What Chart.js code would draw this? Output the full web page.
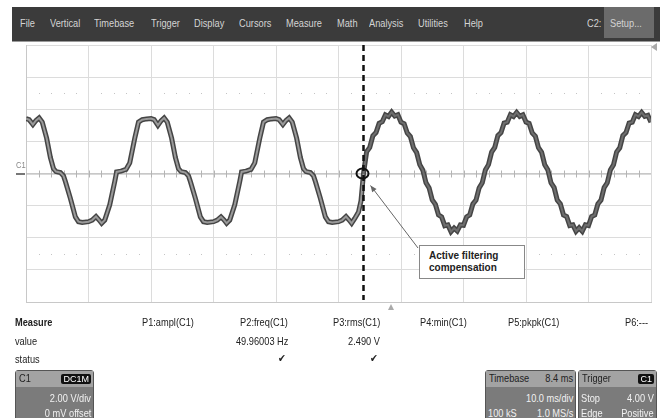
<!DOCTYPE html>
<html>
<head>
<meta charset="utf-8">
<script src="https://cdn.jsdelivr.net/npm/chart.js@4.4.0/dist/chart.umd.min.js"></script>
<style>
  body { margin: 0; width: 665px; height: 418px; position: relative; background: #fff; overflow: hidden;
         font-family: "Liberation Sans", Arial, sans-serif; }
  .abs { position: absolute; white-space: nowrap; }
  .l { transform: scaleX(0.84); transform-origin: left center; }
  .r { transform: scaleX(0.84); transform-origin: right center; }
  #menu { left: 12px; top: 7px; width: 648px; height: 34px; background: #3b3b3b; border-bottom: 1px solid #9a9a9a; }
  #menu span { position: absolute; top: 10px; font-size: 11px; color: #d4d4d4; }
  #setup { position: absolute; left: 592px; top: 0; width: 50px; height: 31px; background: #6b6b6b; }
  .m { font-size: 11px; color: #222; }
  .box { position: absolute; top: 370px; height: 52px; background: #7b7b7b; border-radius: 3px; border: 1px solid #555; }
  .box .hd { position: absolute; left: 0; right: 0; top: 0; height: 16px; background: #a3a3a3; }
  .box span { position: absolute; font-size: 11px; white-space: nowrap; }
  .badge { background: #111; color: #fff; border-radius: 2px; padding: 0 2px; font-size: 9px !important; line-height: 10px; }
  #note { left: 419px; top: 245px; width: 104px; height: 32px; background: #fff; border: 1px solid #888;
          font-weight: bold; font-size: 10px; line-height: 12px; color: #222; }
</style>
</head>
<body>
<div id="menu" class="abs">
  <span class="l" style="left:8px">File</span>
  <span class="l" style="left:38px">Vertical</span>
  <span class="l" style="left:82px">Timebase</span>
  <span class="l" style="left:139px">Trigger</span>
  <span class="l" style="left:182px">Display</span>
  <span class="l" style="left:227px">Cursors</span>
  <span class="l" style="left:274px">Measure</span>
  <span class="l" style="left:325px">Math</span>
  <span class="l" style="left:357px">Analysis</span>
  <span class="l" style="left:406px">Utilities</span>
  <span class="l" style="left:452px">Help</span>
  <span class="l" style="left:575px">C2:</span>
  <div id="setup"><span class="l" style="left:6px">Setup...</span></div>
</div>

<canvas id="scope" width="665" height="418" style="position:absolute;left:0;top:0"></canvas>

<div class="abs l" style="left:16px;top:160px;font-size:9px;color:#888">C1</div>
<div id="note" class="abs"><div style="padding:4px 0 0 9px">Active filtering<br>compensation</div></div>

<div class="abs m l" style="left:15px;top:316px;font-weight:bold">Measure</div>
<div class="abs m l" style="left:15px;top:335px">value</div>
<div class="abs m l" style="left:15px;top:353px">status</div>
<div class="abs m l" style="left:142px;top:316px">P1:ampl(C1)</div>
<div class="abs m r" style="right:377px;top:316px">P2:freq(C1)</div>
<div class="abs m r" style="right:377px;top:335px">49.96003 Hz</div>
<div class="abs m r" style="right:379px;top:352px">✔</div>
<div class="abs m r" style="right:285px;top:316px">P3:rms(C1)</div>
<div class="abs m r" style="right:285px;top:335px">2.490 V</div>
<div class="abs m r" style="right:287px;top:352px">✔</div>
<div class="abs m l" style="left:420px;top:316px">P4:min(C1)</div>
<div class="abs m l" style="left:508px;top:316px">P5:pkpk(C1)</div>
<div class="abs m l" style="left:625px;top:316px">P6:---</div>

<div class="box" style="left:15px;width:77px">
  <div class="hd"></div>
  <span class="l" style="left:3px;top:1px;color:#222">C1</span>
  <span class="badge" style="right:2px;top:3px">DC1M</span>
  <span class="r" style="right:2px;top:21px;color:#f2f2f2">2.00 V/div</span>
  <span class="r" style="right:2px;top:36px;color:#f2f2f2">0 mV offset</span>
</div>
<div class="box" style="left:485px;width:89px">
  <div class="hd"></div>
  <span class="l" style="left:3px;top:1px;color:#222">Timebase</span>
  <span class="r" style="right:2px;top:1px;color:#222">8.4 ms</span>
  <span class="r" style="right:2px;top:21px;color:#f2f2f2">10.0 ms/div</span>
  <span class="l" style="left:2px;top:36px;color:#f2f2f2">100 kS</span>
  <span class="r" style="right:2px;top:36px;color:#f2f2f2">1.0 MS/s</span>
</div>
<div class="box" style="left:578px;width:77px">
  <div class="hd"></div>
  <span class="l" style="left:3px;top:1px;color:#222">Trigger</span>
  <span class="badge" style="right:2px;top:3px">C1</span>
  <span class="l" style="left:2px;top:21px;color:#f2f2f2">Stop</span>
  <span class="r" style="right:2px;top:21px;color:#f2f2f2">4.00 V</span>
  <span class="l" style="left:2px;top:36px;color:#f2f2f2">Edge</span>
  <span class="r" style="right:2px;top:36px;color:#f2f2f2">Positive</span>
</div>

<script>
// time in ms (10 ms/div), voltage in V (2 V/div)
const distT = [0.0, 0.5, 1.1, 1.6, 2.1, 2.6, 3.3, 3.9, 4.4, 4.8, 5.5, 6.0, 6.3, 7.1, 7.9, 8.4, 9.0, 10.0, 10.6, 11.2, 11.7, 12.1, 12.6, 13.4, 14.2, 14.5, 15.2, 16.0, 16.6, 17.4, 18.0, 18.6, 19.3,
  20.0, 20.5, 21.1, 21.6, 22.1, 22.6, 23.3, 23.9, 24.4, 24.8, 25.5, 26.0, 26.3, 27.1, 27.9, 28.4, 29.0, 30.0, 30.6, 31.2, 31.7, 32.1, 32.6, 33.4, 34.2, 34.5, 35.2, 36.0, 36.6, 37.4, 38.0, 38.6, 39.3,
  40.0, 40.5, 41.1, 41.6, 42.1, 42.6, 43.3, 43.9, 44.4, 44.8, 45.5, 46.0, 46.3, 47.1, 47.9, 48.4, 49.0, 50.0, 50.6, 51.2, 51.7, 52.1, 52.6, 53.2, 53.6, 54.0];
const distV = [3.42, 3.35, 3.05, 3.3, 3.46, 3.2, 2.2, 1.0, 0.3, 0.12, 0.06, -0.15, -0.5, -1.55, -2.7, -3.0, -3.05, -3.0, -2.9, -2.68, -2.9, -3.1, -2.9, -1.95, -0.5, 0.1, 0.15, 0.25, 0.66, 2.2, 3.2, 3.35, 3.4,
  3.42, 3.35, 3.0, 3.28, 3.46, 3.2, 2.2, 1.0, 0.3, 0.12, 0.06, -0.15, -0.5, -1.55, -2.7, -3.0, -3.05, -3.0, -2.9, -2.7, -2.9, -3.1, -2.9, -1.95, -0.5, 0.1, 0.15, 0.25, 0.66, 2.2, 3.2, 3.35, 3.4,
  3.42, 3.35, 3.05, 3.3, 3.46, 3.2, 2.2, 1.0, 0.3, 0.12, 0.06, -0.15, -0.5, -1.55, -2.7, -3.0, -3.05, -3.0, -2.9, -2.68, -2.9, -3.1, -2.8, -2.4, -1.7, 0.0];

const filtT = [54.5, 55.0, 55.5, 56.0, 56.5, 57.0, 57.5, 58.0, 58.5, 59.0, 59.5, 60.0, 60.5, 61.0, 61.5, 62.0, 62.5, 63.0, 63.5, 64.0, 64.5, 65.0, 65.5, 66.0, 66.5, 67.0, 67.5, 68.0, 68.5, 69.0, 69.5,
  70.0, 70.5, 71.0, 71.5, 72.0, 72.5, 73.0, 73.5, 74.0, 74.5, 75.0, 75.5, 76.0, 76.5, 77.0, 77.5, 78.0, 78.5, 79.0, 79.5, 80.0, 80.5, 81.0, 81.5, 82.0, 82.5, 83.0, 83.5, 84.0, 84.5,
  85.0, 85.5, 86.0, 86.5, 87.0, 87.5, 88.0, 88.5, 89.0, 89.5, 90.0, 90.5, 91.0, 91.5, 92.0, 92.5, 93.0, 93.5, 94.0, 94.5, 95.0, 95.5, 96.0, 96.5, 97.0, 97.5, 98.0, 98.5, 99.0, 99.5, 100.0];
const filtV = [1.35, 1.62, 2.35, 2.55, 3.12, 3.22, 3.65, 3.55, 3.82, 3.58, 3.66, 3.2, 3.1, 2.52, 2.3, 1.6, 1.3, 0.55, 0.2, -0.58, -0.9, -1.65, -1.92, -2.58, -2.7, -3.25, -3.2, -3.62, -3.4, -3.58, -3.2,
  -3.22, -2.7, -2.58, -1.9, -1.65, -0.9, -0.58, 0.22, 0.55, 1.33, 1.62, 2.36, 2.54, 3.14, 3.2, 3.66, 3.55, 3.8, 3.56, 3.65, 3.2, 3.12, 2.52, 2.32, 1.6, 1.32, 0.54, 0.22, -0.58, -0.88,
  -1.66, -1.9, -2.58, -2.68, -3.24, -3.2, -3.6, -3.38, -3.6, -3.2, -3.24, -2.68, -2.58, -1.9, -1.66, -0.88, -0.58, 0.22, 0.54, 1.34, 1.6, 2.36, 2.55, 3.14, 3.2, 3.66, 3.55, 3.8, 3.56, 3.62, 3.2];

const cursorT = 54.0;
const dotRowsV = [5, -5];

const trace = distT.map((t, i) => ({ x: t, y: distV[i] }))
  .concat(filtT.map((t, i) => ({ x: t, y: filtV[i] })));

const overlay = {
  id: 'overlay',
  beforeDatasetsDraw(chart) {
    const c = chart.ctx, xs = chart.scales.x, ys = chart.scales.y, a = chart.chartArea;
    c.save();
    // dotted rows
    c.fillStyle = '#c4c4c4';
    dotRowsV.forEach(v => {
      const y = ys.getPixelForValue(v);
      for (let t = 2; t < 100; t += 2) {
        if (t % 10 === 0) continue;
        c.fillRect(Math.round(xs.getPixelForValue(t)), Math.round(y), 1, 1);
      }
    });
    // centre line ticks
    const y0 = ys.getPixelForValue(0);
    c.strokeStyle = '#b4b4b4';
    c.lineWidth = 1;
    c.beginPath();
    c.moveTo(a.left, y0 + 0.5); c.lineTo(a.right, y0 + 0.5);
    for (let t = 2; t < 100; t += 2) {
      const x = Math.round(xs.getPixelForValue(t)) + 0.5;
      c.moveTo(x, y0 - 3); c.lineTo(x, y0 + 4);
    }
    c.stroke();
    // channel marker
    c.strokeStyle = '#777';
    c.lineWidth = 2;
    c.beginPath(); c.moveTo(16, y0 + 0.5); c.lineTo(25, y0 + 0.5); c.stroke();
    // trigger markers
    c.fillStyle = '#aaa';
    c.beginPath(); c.moveTo(657, a.top - 2); c.lineTo(657, a.top + 6); c.lineTo(651, a.top + 2); c.fill();
    const xt = xs.getPixelForValue(58.4);
    c.beginPath(); c.moveTo(xt - 3, a.bottom + 8); c.lineTo(xt + 3, a.bottom + 8); c.lineTo(xt, a.bottom + 2); c.fill();
    c.restore();
  },
  afterDatasetsDraw(chart) {
    const c = chart.ctx, xs = chart.scales.x, ys = chart.scales.y, a = chart.chartArea;
    const xc = xs.getPixelForValue(cursorT), yc = ys.getPixelForValue(0);
    c.save();
    c.strokeStyle = '#111';
    c.lineWidth = 2.5;
    c.setLineDash([6, 4]);
    c.beginPath(); c.moveTo(xc, a.top); c.lineTo(xc, a.bottom - 2); c.stroke();
    c.setLineDash([]);
    c.lineWidth = 2;
    c.beginPath(); c.ellipse(xc - 1, yc, 6, 5, 0, 0, Math.PI * 2); c.stroke();
    // arrow to note
    c.strokeStyle = '#666';
    c.fillStyle = '#666';
    c.lineWidth = 1;
    const tx = xc + 7, ty = yc + 12, bx = 418, by = 248;
    c.beginPath(); c.moveTo(bx, by); c.lineTo(tx, ty); c.stroke();
    const ang = Math.atan2(ty - by, tx - bx);
    c.beginPath();
    c.moveTo(tx, ty);
    c.lineTo(tx - 7 * Math.cos(ang - 0.4), ty - 7 * Math.sin(ang - 0.4));
    c.lineTo(tx - 7 * Math.cos(ang + 0.4), ty - 7 * Math.sin(ang + 0.4));
    c.fill();
    c.restore();
  }
};

new Chart(document.getElementById('scope').getContext('2d'), {
  type: 'line',
  data: {
    datasets: [{
      // light core of the trace, drawn on top; noisier (darker) after the cursor
      data: trace,
      borderColor: '#9a9a9a',
      borderWidth: 2,
      pointRadius: 0,
      tension: 0,
      segment: {
        borderColor: ctx => ctx.p0.parsed.x >= cursorT ? '#6e6e6e' : '#9a9a9a'
      }
    }, {
      data: trace,
      borderColor: '#454545',
      borderWidth: 5,
      pointRadius: 0,
      tension: 0
    }]
  },
  options: {
    responsive: false,
    animation: false,
    devicePixelRatio: 1,
    layout: { padding: { left: 26, right: 14, top: 45, bottom: 116 } },
    plugins: { legend: { display: false }, tooltip: { enabled: false } },
    scales: {
      x: {
        type: 'linear', min: 0, max: 100,
        ticks: { display: false, stepSize: 10 },
        grid: { color: '#dcdcdc', drawTicks: false },
        border: { color: '#c8c8c8' }
      },
      y: {
        min: -8, max: 8,
        ticks: { display: false, stepSize: 2 },
        grid: { color: '#dcdcdc', drawTicks: false },
        border: { color: '#c8c8c8' }
      }
    }
  },
  plugins: [overlay]
});
</script>
</body>
</html>
